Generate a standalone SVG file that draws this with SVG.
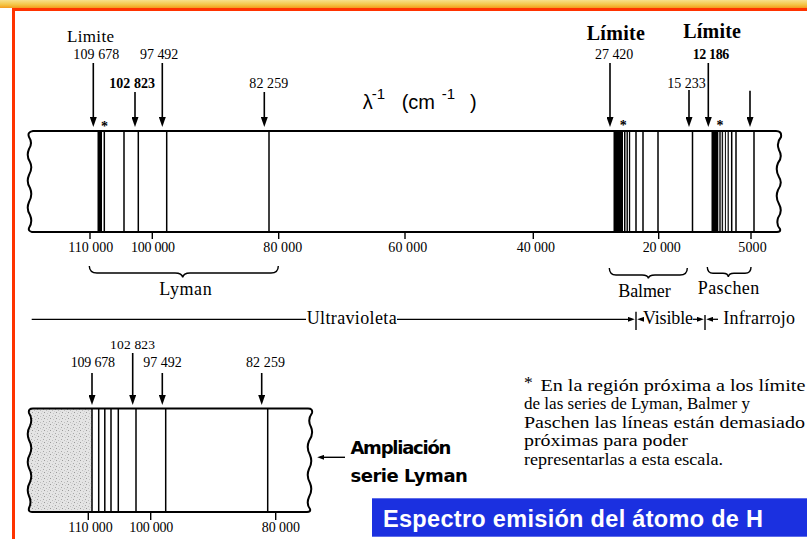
<svg xmlns="http://www.w3.org/2000/svg" width="807" height="539" viewBox="0 0 807 539">
<defs>
<style>
.t{font-family:"Liberation Serif","Times New Roman",serif;fill:#000}
.n{font-size:14px}
.nb{font-size:14px;font-weight:bold}
.s{font-size:18px}
.f{font-size:17.5px}
.sp{stroke:#000;stroke-width:1.5}
.ar{stroke:#000;stroke-width:1.6;fill:none}
.br{stroke:#000;stroke-width:1.4;fill:none}
.tk{stroke:#000;stroke-width:1.4}
</style>
<linearGradient id="topg" x1="0" y1="0" x2="0" y2="1">
<stop offset="0" stop-color="#f7e08c"/>
<stop offset="0.6" stop-color="#f4c443"/>
<stop offset="1" stop-color="#f39a1e"/>
</linearGradient>
<marker id="ah" viewBox="0 0 10 10" refX="6" refY="5" markerWidth="10" markerHeight="7" markerUnits="userSpaceOnUse" orient="auto" preserveAspectRatio="none">
<path d="M0,0 L10,5 L0,10 z" fill="#000"/>
</marker>
<marker id="ahs" viewBox="0 0 10 10" refX="6" refY="5" markerWidth="7" markerHeight="5" markerUnits="userSpaceOnUse" orient="auto" preserveAspectRatio="none">
<path d="M0,0 L10,5 L0,10 z" fill="#000"/>
</marker>
<pattern id="stip" width="6" height="6" patternUnits="userSpaceOnUse">
<rect width="6" height="6" fill="#e4e4e4"/>
<rect x="1" y="1" width="1" height="1" fill="#a8a8a8"/>
<rect x="4" y="2" width="1" height="1" fill="#bdbdbd"/>
<rect x="2" y="4" width="1" height="1" fill="#9a9a9a"/>
<rect x="5" y="5" width="1" height="1" fill="#c4c4c4"/>
<rect x="0" y="3" width="1" height="1" fill="#cfcfcf"/>
</pattern>
<path id="bandTop" d="M33,131 H776 Q782,131 781,137 Q776,143 779,150 Q783,157 778,163 Q775,170 779,177 Q783,183 778,190 Q775,197 779,204 Q783,211 778,218 Q776,225 780,229 Q781,232 777,232 H32 Q28,231 29,228 Q33,222 30,215 Q26,209 29,202 Q33,195 30,188 Q26,182 29,175 Q33,168 30,162 Q26,156 29,149 Q33,143 29,137 Q27,132 33,131 Z"/>
<path id="bandBot" d="M33,408.5 H308 Q313,408.5 312,413 Q307,420 311,427 Q314,434 309,441 Q306,448 310,455 Q313,462 309,469 Q306,476 310,483 Q313,490 309,497 Q306,504 310,509 Q311,512 307,512 H32 Q28,512 29,508 Q32,502 29,496 Q26,489 30,482 Q33,475 29,468 Q26,461 30,454 Q33,447 29,440 Q26,433 30,426 Q33,419 29,413 Q28,408.5 33,408.5 Z"/>
<clipPath id="clipBot"><use href="#bandBot"/></clipPath>
</defs>

<g id="page">
<rect x="0" y="0" width="807" height="539" fill="#fff"/>
<rect x="0" y="0" width="807" height="8" fill="url(#topg)"/>
<line x1="12" y1="9.5" x2="807" y2="9.5" stroke="#ff3300" stroke-width="3"/>
<line x1="13.5" y1="8" x2="13.5" y2="539" stroke="#ff3300" stroke-width="3"/>
</g>

<g id="spectrum-main">
<use href="#bandTop" fill="#fff"/>
<rect x="97.5" y="131" width="4.5" height="101" fill="#000"/>
<rect x="613.5" y="131" width="9.5" height="101" fill="#000"/>
<rect x="711.5" y="131" width="6.5" height="101" fill="#000"/>
<g class="sp">
<line x1="104.3" y1="131" x2="104.3" y2="232"/>
<line x1="124" y1="131" x2="124" y2="232"/>
<line x1="138.3" y1="131" x2="138.3" y2="232"/>
<line x1="166.7" y1="131" x2="166.7" y2="232"/>
<line x1="269" y1="131" x2="269" y2="232"/>
<line x1="624.5" y1="131" x2="624.5" y2="232" stroke-width="1"/>
<line x1="626" y1="131" x2="626" y2="232" stroke-width="1"/>
<line x1="627.6" y1="131" x2="627.6" y2="232" stroke-width="1"/>
<line x1="629.6" y1="131" x2="629.6" y2="232" stroke-width="1.2"/>
<line x1="636" y1="131" x2="636" y2="232"/>
<line x1="643" y1="131" x2="643" y2="232"/>
<line x1="658" y1="131" x2="658" y2="232"/>
<line x1="692.5" y1="131" x2="692.5" y2="232"/>
<line x1="719.2" y1="131" x2="719.2" y2="232" stroke-width="1"/>
<line x1="720.8" y1="131" x2="720.8" y2="232" stroke-width="1"/>
<line x1="722.6" y1="131" x2="722.6" y2="232" stroke-width="1"/>
<line x1="725.4" y1="131" x2="725.4" y2="232" stroke-width="1"/>
<line x1="728.2" y1="131" x2="728.2" y2="232" stroke-width="1.2"/>
<line x1="731.7" y1="131" x2="731.7" y2="232"/>
<line x1="736" y1="131" x2="736" y2="232"/>
<line x1="754" y1="131" x2="754" y2="232"/>
</g>
<use href="#bandTop" fill="none" stroke="#000" stroke-width="2"/>
<g class="tk">
<line x1="90" y1="232" x2="90" y2="239"/>
<line x1="152.3" y1="232" x2="152.3" y2="239"/>
<line x1="278.7" y1="232" x2="278.7" y2="239"/>
<line x1="405" y1="232" x2="405" y2="239"/>
<line x1="533.3" y1="232" x2="533.3" y2="239"/>
<line x1="658.7" y1="232" x2="658.7" y2="239"/>
<line x1="751" y1="232" x2="751" y2="239"/>
</g>
<g class="t n">
<text x="68.3" y="251.5" textLength="45">110 000</text>
<text x="131" y="251.5" textLength="44">100 000</text>
<text x="263.3" y="251.5" textLength="39">80 000</text>
<text x="388.3" y="251.5" textLength="39">60 000</text>
<text x="516.7" y="251.5" textLength="38.3">40 000</text>
<text x="642.7" y="251.5" textLength="38">20 000</text>
<text x="738.3" y="251.5" textLength="28.4">5000</text>
</g>
<g class="t" font-size="14" font-weight="bold" text-anchor="middle">
<text x="104.5" y="131">*</text>
<text x="623.3" y="129.7">*</text>
<text x="720" y="129.7">*</text>
</g>
</g>

<g id="axis-label">
<g font-family="Liberation Sans, Arial, sans-serif" fill="#000">
<text x="362.7" y="109" font-size="20">λ</text>
<text x="371.7" y="99" font-size="15">-1</text>
<text x="401.7" y="109" font-size="20">(cm</text>
<text x="441.7" y="99" font-size="15">-1</text>
<text x="470" y="109" font-size="20">)</text>
</g>
</g>

<g id="connectors">
<g class="ar" marker-end="url(#ah)">
<line x1="93.3" y1="63" x2="93.3" y2="123"/>
<line x1="135" y1="92" x2="135" y2="123"/>
<line x1="162.3" y1="63" x2="162.3" y2="123"/>
<line x1="264.3" y1="92" x2="264.3" y2="123"/>
<line x1="610" y1="63" x2="610" y2="123"/>
<line x1="689" y1="90" x2="689" y2="123"/>
<line x1="708.3" y1="63" x2="708.3" y2="123"/>
<line x1="750" y1="90.7" x2="750" y2="123"/>
<line x1="92" y1="373" x2="92" y2="401"/>
<line x1="132.7" y1="353" x2="132.7" y2="401"/>
<line x1="162.3" y1="373" x2="162.3" y2="401"/>
<line x1="261.7" y1="373" x2="261.7" y2="401"/>
</g>
<line x1="345" y1="457.3" x2="320" y2="457.3" stroke="#000" stroke-width="1.4" marker-end="url(#ahs)"/>
</g>

<g id="top-labels" class="t">
<text x="67" y="41.7" font-size="17" textLength="47">Limite</text>
<text class="n" x="73.3" y="59.3" textLength="46">109 678</text>
<text class="n" x="140" y="59.3" textLength="38.3">97 492</text>
<text class="nb" x="109.3" y="88.3" textLength="45.7">102 823</text>
<text class="n" x="249.3" y="88.3" textLength="39">82 259</text>
<text x="586.7" y="40" font-size="20" font-weight="bold" textLength="58.3">Límite</text>
<text x="683.3" y="38.3" font-size="20" font-weight="bold" textLength="57.7">Límite</text>
<text class="n" x="595" y="59.3" textLength="38.3">27 420</text>
<text class="nb" x="692.7" y="59.3" textLength="36.6">12 186</text>
<text class="n" x="667.3" y="87.7" textLength="38.4">15 233</text>
</g>

<g id="series">
<path class="br" d="M89.3,266 Q89.5,273 97,273 L175,273 Q182,273 182.7,277.5 Q183.5,273 190,273 L271,273 Q278.3,273 278.3,266"/>
<path class="br" d="M609.3,268 Q609.5,275 616,275 L642,275 Q648,275 648.3,278.5 Q648.8,275 655,275 L680,275 Q687.3,275 687.3,268"/>
<path class="br" d="M707.3,267 Q707.5,273.3 713,273.3 L723,273.3 Q728,273.3 728.3,277 Q728.8,273.3 734,273.3 L745,273.3 Q751,273.3 751,267"/>
<g class="t s">
<text x="159.3" y="295" textLength="52.4">Lyman</text>
<text x="618.3" y="296.7" textLength="52.4">Balmer</text>
<text x="697.7" y="294.3" textLength="61.6">Paschen</text>
</g>
</g>

<g id="regions">
<line x1="31.7" y1="319.3" x2="306" y2="319.3" stroke="#000" stroke-width="1.3"/>
<line x1="397" y1="319.3" x2="632" y2="319.3" stroke="#000" stroke-width="1.3" marker-end="url(#ahs)"/>
<line x1="636" y1="311.7" x2="636" y2="330" stroke="#000" stroke-width="1.4"/>
<line x1="644" y1="319.3" x2="640" y2="319.3" stroke="#000" stroke-width="1.3" marker-end="url(#ahs)"/>
<line x1="693" y1="319.3" x2="701" y2="319.3" stroke="#000" stroke-width="1.3" marker-end="url(#ahs)"/>
<line x1="705" y1="315" x2="705" y2="330" stroke="#000" stroke-width="1.4"/>
<line x1="718" y1="319.3" x2="709" y2="319.3" stroke="#000" stroke-width="1.3" marker-end="url(#ahs)"/>
<g class="t s">
<text x="306.7" y="324.3" textLength="90">Ultravioleta</text>
<text x="643" y="324.3" textLength="50">Visible</text>
<text x="723.3" y="324.3" textLength="71.7">Infrarrojo</text>
</g>
</g>

<g id="spectrum-lyman-zoom">
<use href="#bandBot" fill="#fff"/>
<rect x="25" y="405" width="67" height="110" fill="url(#stip)" clip-path="url(#clipBot)"/>
<g class="sp">
<line x1="92" y1="408.5" x2="92" y2="512"/>
<line x1="98.7" y1="408.5" x2="98.7" y2="512"/>
<line x1="104.8" y1="408.5" x2="104.8" y2="512"/>
<line x1="111" y1="408.5" x2="111" y2="512"/>
<line x1="118.3" y1="408.5" x2="118.3" y2="512"/>
<line x1="136" y1="408.5" x2="136" y2="512"/>
<line x1="165.7" y1="408.5" x2="165.7" y2="512"/>
<line x1="267.7" y1="408.5" x2="267.7" y2="512"/>
</g>
<use href="#bandBot" fill="none" stroke="#000" stroke-width="2"/>
<g class="tk">
<line x1="88.3" y1="512" x2="88.3" y2="520"/>
<line x1="150.7" y1="512" x2="150.7" y2="520"/>
<line x1="275.7" y1="512" x2="275.7" y2="520"/>
</g>
<g class="t n">
<text x="68.3" y="531.7" textLength="44.4">110 000</text>
<text x="129.3" y="531.7" textLength="44">100 000</text>
<text x="261.7" y="531.7" textLength="38.3">80 000</text>
<text x="110" y="349" font-size="13.5" textLength="45">102 823</text>
<text x="70.7" y="366.7" textLength="44.3">109 678</text>
<text x="143.3" y="366.7" textLength="38.4">97 492</text>
<text x="246" y="366.7" textLength="39">82 259</text>
</g>
</g>

<g id="zoom-note">
<g font-family="DejaVu Sans, Verdana, sans-serif" font-weight="bold" font-size="18" fill="#000">
<text x="350.4" y="454" textLength="101">Ampliación</text>
<text x="350.4" y="481.7" textLength="117.5">serie Lyman</text>
</g>
</g>

<g id="footnote" class="t f">
<text x="524" y="387.5">*</text>
<text x="540.4" y="390.7" textLength="265" lengthAdjust="spacingAndGlyphs">En la región próxima a los límite</text>
<text x="524" y="409.3" textLength="226" lengthAdjust="spacingAndGlyphs">de las series de Lyman, Balmer y</text>
<text x="524" y="428" textLength="281" lengthAdjust="spacingAndGlyphs">Paschen las líneas están demasiado</text>
<text x="524" y="446.3" textLength="164" lengthAdjust="spacingAndGlyphs">próximas para poder</text>
<text x="524" y="464.5" textLength="199" lengthAdjust="spacingAndGlyphs">representarlas a esta escala.</text>
</g>

<g id="title">
<rect x="372" y="498.3" width="435" height="38.4" fill="#1b30e0"/>
<text x="383" y="526.5" font-family="Liberation Sans, Arial, sans-serif" font-weight="bold" font-size="23.5" fill="#fff" textLength="380">Espectro emisión del átomo de H</text>
</g>
</svg>
